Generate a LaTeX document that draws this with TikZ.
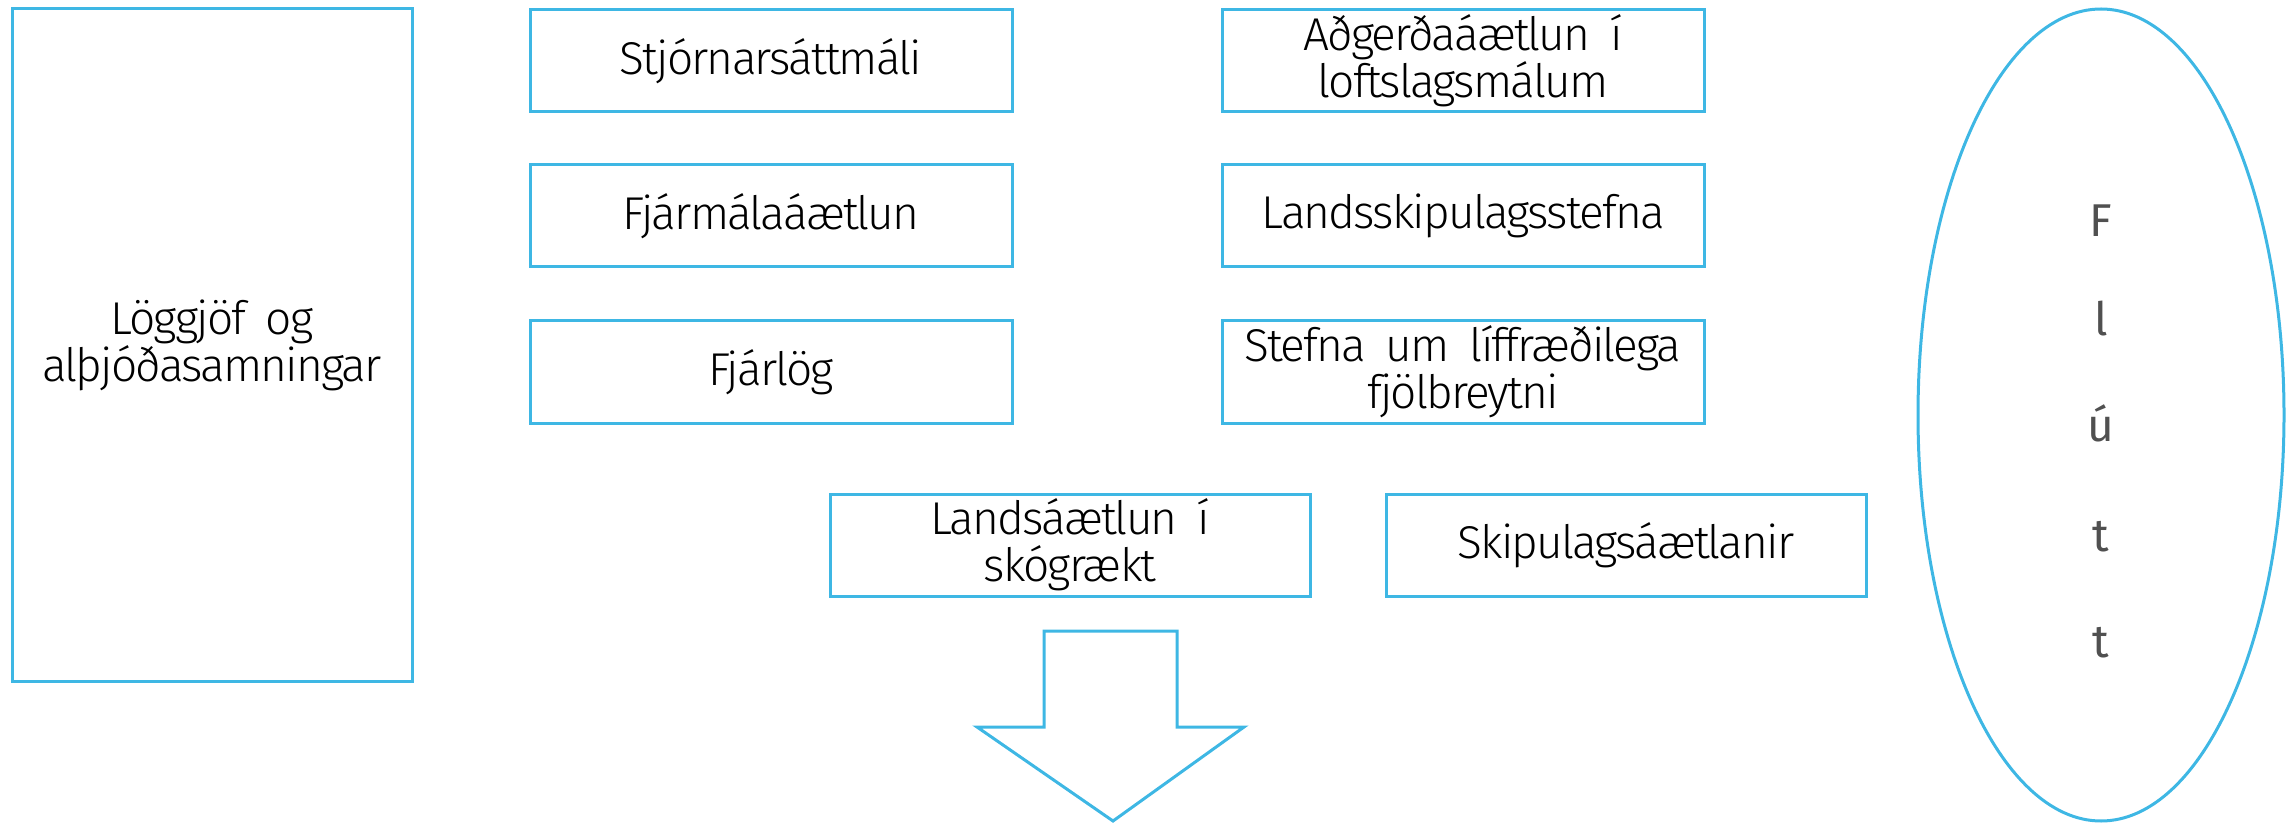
\documentclass[tikz,border=0pt]{standalone}
\usepackage{fontspec}
\setmainfont{Fira Sans Light}[LetterSpace=-4,WordSpace=1.8]
\newfontfamily\flufont{Fira Sans}
\usetikzlibrary{shapes.geometric}
\definecolor{linec}{RGB}{62,183,228}
\definecolor{flut}{RGB}{80,80,80}
\tikzset{
  box/.style={draw=linec, line width=1.5pt, rectangle, inner sep=0pt,
    minimum width=241pt, minimum height=51pt, align=center,
    font=\fontsize{23}{23.5}\selectfont},
  letter/.style={anchor=base, text=flut, font=\fontsize{23}{24}\selectfont\flufont}
}
\begin{document}
\begin{tikzpicture}[x=0.5pt,y=-0.5pt]
\useasboundingbox (0,0) rectangle (2290,823);
\node[box, minimum width=200pt, minimum height=336pt] (law) at (212,345) {Löggjöf og\\alþjóðasamningar};
\node[box] (stj) at (771,61) {Stjórnarsáttmáli};
\node[box] (fjm) at (771,216) {Fjármálaáætlun};
\node[box] (fjl) at (771,372) {Fjárlög};
\node[box] (adg) at (1463,61) {Aðgerðaáætlun í\\loftslagsmálum};
\node[box] (lsk) at (1463,216) {Landsskipulagsstefna};
\node[box] (stf) at (1463,372) {Stefna um líffræðilega\\fjölbreytni};
\node[box, minimum width=240pt] (skog) at (1070,545) {Landsáætlun í\\skógrækt};
\node[box, minimum width=240pt] (skip) at (1626,545) {Skipulagsáætlanir};
\draw[draw=linec, line width=1.5pt, line join=miter]
  (1044,631) -- (1177,631) -- (1177,727) -- (1244,727) -- (1113,821)
  -- (977,727) -- (1044,727) -- cycle;
\node[draw=linec, line width=1.5pt, ellipse, inner sep=0pt,
  minimum width=183pt, minimum height=406pt] (flutt) at (2101,415) {};
\node[letter] (l1) at (2101,237) {F};
\node[letter] (l2) at (2101,336) {l};
\node[letter] (l3) at (2101,441) {ú};
\node[letter] (l4) at (2101,551) {t};
\node[letter] (l5) at (2101,657) {t};
\end{tikzpicture}
\end{document}
